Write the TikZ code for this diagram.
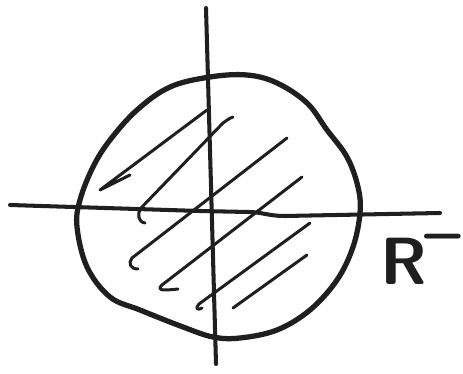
\documentclass[tikz,border=0pt]{standalone}
\usepackage{fontspec}
\usetikzlibrary{positioning}

\tikzset{
  outline/.style={line width=3pt, line join=round, line cap=round, color=black!88},
  axis/.style={line width=2.3pt, line cap=round, color=black!88},
  hatch/.style={line width=1.7pt, line cap=round, line join=round, color=black!88},
  lbl/.style={font=\sffamily\bfseries\fontsize{38}{44}\selectfont, text=black!88, inner sep=0pt}
}

\begin{document}
\begin{tikzpicture}[x=0.02cm, y=-0.02cm]
    \useasboundingbox (0,0) rectangle (463,374);
    % axes
    \coordinate (xl) at (10,205);
    \coordinate (xr) at (440,213);
    \coordinate (yt) at (206,8);
    \coordinate (yb) at (216,364);
    \draw[axis] (xl) -- (200,211) -- (248,212) .. controls (262,212) and (268,216) .. (285,216) -- (xr);
    \draw[axis] (yt) -- (yb);
    % region
    \draw[outline] plot[smooth cycle, tension=0.6] coordinates {
      (210,77) (247,75) (277,83) (307,103) (327,130) (347,157) (358,187)
      (360,213) (353,247) (337,280) (310,310) (277,330) (240,338) (213,337)
      (183,327) (140,310) (110,297) (87,267) (77,227) (80,200) (93,167)
      (110,140) (137,110) (170,87)};
    % hatching
    \draw[hatch] (207,110) -- (100,190) -- (130,175);
    \draw[hatch] (233,117) .. controls (230,118) .. (223,123) -- (141,208) .. controls (137,214) and (138,222) .. (145,223);
    \draw[hatch] (287,138) -- (132,258) .. controls (128,263) and (130,269) .. (138,269);
    \draw[hatch] (302,177) -- (162,285) .. controls (157,290) and (160,291) .. (178,289);
    \draw[hatch] (310,223) -- (199,304) .. controls (195,308) and (197,311) .. (202,308);
    \draw[hatch] (307,255) -- (233,308);
    % label
    \node[lbl, anchor=north west] (lab) at (380,234) {R\hspace{-0.04em}\raisebox{0.95ex}{--}};
\end{tikzpicture}
\end{document}
